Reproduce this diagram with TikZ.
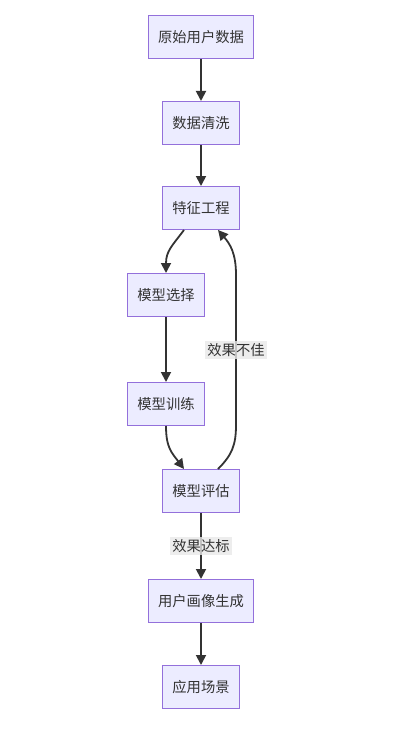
\documentclass[tikz,border=0pt]{standalone}
\usepackage{fontspec}
\setmainfont{Noto Sans CJK SC}
\usetikzlibrary{arrows.meta}
\definecolor{boxfill}{HTML}{ECECFF}
\definecolor{boxline}{HTML}{9370DB}
\definecolor{edgecol}{HTML}{333333}
\definecolor{lblbg}{HTML}{E8E8E8}
\begin{document}
\begin{tikzpicture}[x=1pt,y=-1pt,
  proc/.style={draw=boxline,fill=boxfill,line width=1pt,minimum height=43pt,inner xsep=10pt,text=edgecol,font=\fontsize{14.3pt}{16pt}\selectfont},
  edge/.style={draw=edgecol,line width=1.8pt,-{Triangle[length=10pt,width=10pt]}},
  lbl/.style={fill=lblbg,fill opacity=0.8,text opacity=1,text=edgecol,inner sep=2pt,font=\fontsize{14.3pt}{16pt}\selectfont}]
\useasboundingbox (0,0) rectangle (415,741);
\node[proc] (n1) at (201,37) {原始用户数据};
\node[proc] (n2) at (201,123) {数据清洗};
\node[proc] (n3) at (201,208) {特征工程};
\node[proc] (n4) at (166,295) {模型选择};
\node[proc] (n5) at (166,404) {模型训练};
\node[proc] (n6) at (201,491) {模型评估};
\node[proc] (n7) at (201,601) {用户画像生成};
\node[proc] (n8) at (201,687) {应用场景};
\draw[edge] (n1) -- (n2);
\draw[edge] (n2) -- (n3);
\draw[edge] ([xshift=-17pt]n3.south) .. controls +(-12,16) and +(0,-22) .. (n4.north);
\draw[edge] (n4) -- (n5);
\draw[edge] (n5.south) .. controls +(0,22) and +(-12,-16) .. ([xshift=-17pt]n6.north);
\coordinate (r1) at (236,425);
\coordinate (r2) at (236,275);
\draw[edge] ([xshift=17pt]n6.north) .. controls +(14,-14) and +(0,20) .. (r1) -- node[lbl,draw=none,pos=0.5] (l1) {效果不佳} (r2) .. controls +(0,-22) and +(12,14) .. ([xshift=17pt]n3.south);
\draw[edge] (n6) -- node[lbl] (l2) {效果达标} (n7);
\draw[edge] (n7) -- (n8);
\end{tikzpicture}
\end{document}
